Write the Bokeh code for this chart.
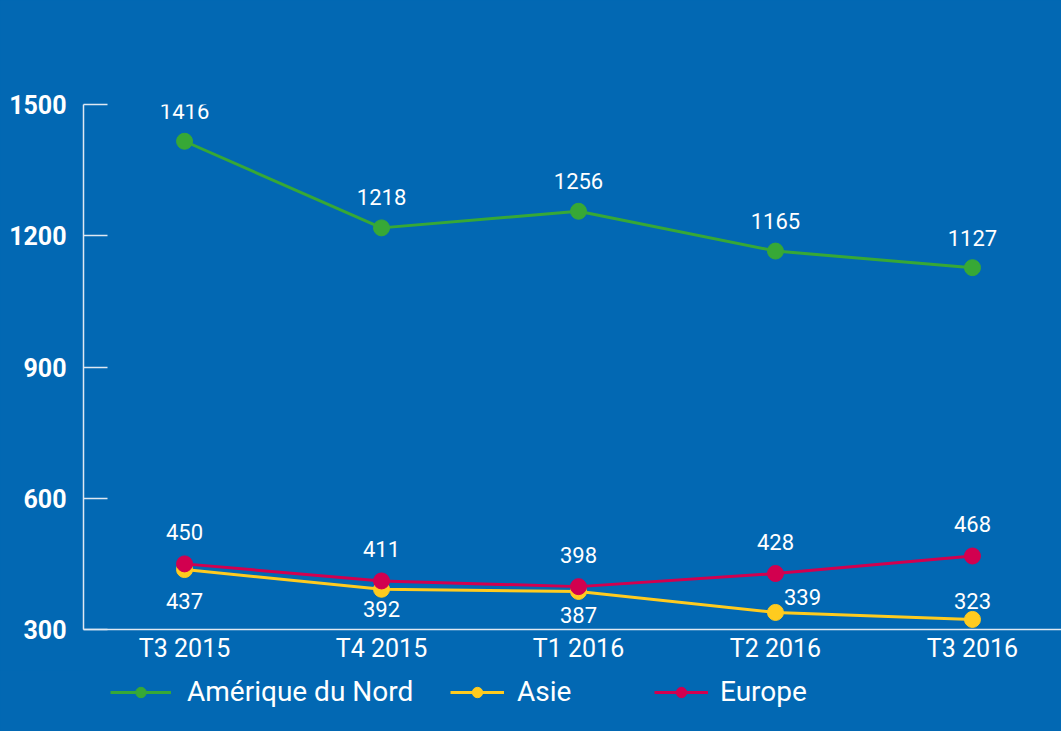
from bokeh.plotting import figure
from bokeh.layouts import column
from bokeh.models import ColumnDataSource, Legend, LegendItem, FixedTicker
from bokeh.embed import file_html
from bokeh.resources import INLINE
from bokeh.core.properties import value

# ---- data ----
quarters = ["T3 2015", "T4 2015", "T1 2016", "T2 2016", "T3 2016"]
amerique = [1416, 1218, 1256, 1165, 1127]
asie = [437, 392, 387, 339, 323]
europe = [450, 411, 398, 428, 468]
y_ticks = [300, 600, 900, 1200, 1500]
series_names = ["Amérique du Nord", "Asie", "Europe"]

# ---- label placement (screen px) ----
amerique_dx = [0, 0, 0, 0, 0]
amerique_dy = [-30, -31, -30, -30, -30]
europe_dx = [0, 0, 0, 0, 0]
europe_dy = [-32, -32, -32, -32, -32]
asie_dx = [0, 0, 0, 27, 0]
asie_dy = [31, 20, 24, -15, -18]

BG = "#0268b3"
GREEN = "#37a836"
YELLOW = "#ffcb1f"
RED = "#d2004f"
AXIS = "#dfe8f2"
FONT = "Roboto"

xs = list(range(len(quarters)))

p = figure(width=1061, height=670,
           x_range=(-0.513, 4.452), y_range=(300, 1500),
           output_backend="svg", toolbar_location=None,
           min_border_left=83, min_border_right=0,
           min_border_top=104, min_border_bottom=41,
           background_fill_color=BG, border_fill_color=BG,
           outline_line_color=None)

p.xgrid.visible = False
p.ygrid.visible = False

# y axis
p.yaxis.ticker = FixedTicker(ticks=y_ticks)
p.yaxis.major_tick_in = 24
p.yaxis.major_tick_out = 0
p.yaxis.major_tick_line_color = AXIS
p.yaxis.major_tick_line_width = 1.5
p.yaxis.minor_tick_line_color = None
p.yaxis.axis_line_color = AXIS
p.yaxis.axis_line_width = 1.5
p.yaxis.major_label_text_color = "white"
p.yaxis.major_label_text_font = FONT
p.yaxis.major_label_text_font_style = "bold"
p.yaxis.major_label_text_font_size = "25px"
p.yaxis.major_label_text_line_height = 1.7
p.yaxis.major_label_standoff = 17

# x axis
p.xaxis.ticker = FixedTicker(ticks=xs)
p.xaxis.major_label_overrides = {i: q for i, q in enumerate(quarters)}
p.xaxis.major_tick_line_color = None
p.xaxis.minor_tick_line_color = None
p.xaxis.axis_line_color = AXIS
p.xaxis.axis_line_width = 1.5
p.xaxis.major_label_text_color = "white"
p.xaxis.major_label_text_font = FONT
p.xaxis.major_label_text_font_size = "25px"
p.xaxis.major_label_standoff = -2

# legend strip below the chart (its frame is aligned with the chart frame)
lf = figure(width=1061, height=61, x_range=(0, 1), y_range=(0, 1),
            output_backend="svg", toolbar_location=None,
            x_axis_type=None, y_axis_type=None,
            min_border_left=0, min_border_right=0,
            min_border_top=0, min_border_bottom=0,
            background_fill_color=BG, border_fill_color=BG,
            outline_line_color=None)
lf.xgrid.visible = False
lf.ygrid.visible = False

legend_pos = [(27, 23), (367, 23), (571, 23)]
legend_glyph_w = [61, 54, 54]
legend_standoff = [16, 13, 12]

for name, vals, color, dx, dy, pos, gw, gs in [
    (series_names[0], amerique, GREEN, amerique_dx, amerique_dy, legend_pos[0], legend_glyph_w[0], legend_standoff[0]),
    (series_names[1], asie, YELLOW, asie_dx, asie_dy, legend_pos[1], legend_glyph_w[1], legend_standoff[1]),
    (series_names[2], europe, RED, europe_dx, europe_dy, legend_pos[2], legend_glyph_w[2], legend_standoff[2]),
]:
    src = ColumnDataSource(dict(x=xs, y=vals, label=[str(v) for v in vals], dx=dx, dy=dy))
    p.line("x", "y", source=src, line_color=color, line_width=3)
    p.scatter("x", "y", source=src, marker="circle", size=16,
              fill_color=color, line_color=color)
    p.text("x", "y", text="label", source=src, x_offset="dx", y_offset="dy",
           text_align="center", text_baseline="middle",
           text_color="white", text_font=value(FONT), text_font_size="22px")

    # legend key glyphs (NaN point: nothing drawn in the strip, only the key)
    key = ColumnDataSource(dict(x=[float("nan")], y=[float("nan")]))
    lr = lf.line("x", "y", source=key, line_color=color, line_width=3)
    sr = lf.scatter("x", "y", source=key, marker="circle", size=12,
                    fill_color=color, line_color=color)
    leg = Legend(items=[LegendItem(label=name, renderers=[lr, sr])],
                 location=pos, orientation="horizontal",
                 background_fill_alpha=0, border_line_color=None,
                 label_text_color="white", label_text_font=FONT,
                 label_text_font_size="28px",
                 glyph_width=gw, glyph_height=26, label_standoff=gs,
                 padding=0, margin=0, spacing=0)
    lf.add_layout(leg, "center")

layout = column(p, lf, spacing=0, styles={"background-color": BG})
open("out.html", "w").write(file_html(layout, INLINE))
